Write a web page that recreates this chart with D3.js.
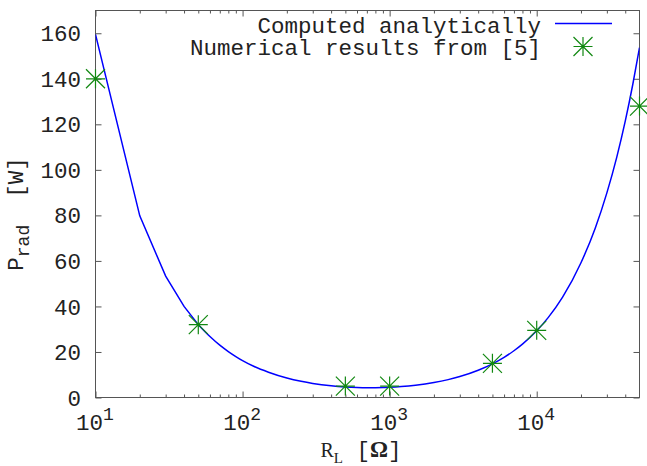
<!DOCTYPE html>
<html>
<head>
<meta charset="utf-8">
<script src="https://cdn.jsdelivr.net/npm/d3@7"></script>
<style>
  body { margin: 0; background: #fff; }
  text { font-family: "Liberation Mono", "Courier New", monospace; fill: #222; white-space: pre; }
</style>
</head>
<body>
<svg id="chart" width="647" height="466"></svg>
<script>
// Analytic radiated power versus load resistance
const curveR = [10, 20, 30, 40, 50, 60, 70, 80, 90, 100, 120, 150, 200, 250, 300, 400, 500, 600, 700, 800, 900,
                1000, 1200, 1500, 2000, 2500, 3000, 4000, 5000, 6000, 7000, 8000, 10000, 12000, 15000,
                20000, 25000, 30000, 35000, 40000, 45000, 50000];
const curveP = [159.5, 79.8, 53.3, 40.0, 32.0, 26.8, 23.0, 20.2, 18.0, 16.2, 13.6, 11.1, 8.55, 7.10, 6.18, 5.14, 4.63, 4.38, 4.29, 4.30, 4.36,
                4.47, 4.78, 5.38, 6.56, 7.85, 9.19, 11.96, 14.79, 17.65, 20.54, 23.45, 29.3, 35.2, 44.1,
                59.2, 74.4, 89.9, 105.5, 121.4, 137.5, 153.7];

// Numerical results from [5]
const refR = [10, 50, 500, 1000, 5000, 10000, 50000];
const refP = [140, 32, 5, 5, 15, 29.5, 128];

const yTicks = [0, 20, 40, 60, 80, 100, 120, 140, 160];
const xMajor = [10, 100, 1000, 10000];
const xExp = ["1", "2", "3", "4"];
const xMinor = [20, 30, 40, 50, 60, 70, 80, 90, 200, 300, 400, 500, 600, 700, 800, 900,
                2000, 3000, 4000, 5000, 6000, 7000, 8000, 9000, 20000, 30000, 40000];

const legendLabels = ["Computed analytically", "Numerical results from [5]"];

const L = 95.5, R = 639.5, T = 10.5, B = 397.5;
const FS = 22.5, SUB = 18;
const svg = d3.select("#chart");

const x = d3.scaleLog().domain([10, 50000]).range([L, R]);
const y = d3.scaleLinear().domain([0, 170]).range([B, T]);

const axisColor = "#555";

// inward ticks on all four sides
function styleAxis(g) {
  g.select(".domain").remove();
  g.selectAll(".tick line").attr("stroke", axisColor).attr("stroke-width", 1);
  g.selectAll(".tick text").remove();
}
svg.append("g").attr("transform", `translate(0,${B})`)
  .call(d3.axisBottom(x).tickValues(xMajor).tickSizeInner(-6).tickSizeOuter(0)).call(styleAxis);
svg.append("g").attr("transform", `translate(0,${B})`)
  .call(d3.axisBottom(x).tickValues(xMinor).tickSizeInner(-3).tickSizeOuter(0)).call(styleAxis);
svg.append("g").attr("transform", `translate(0,${T})`)
  .call(d3.axisTop(x).tickValues(xMajor).tickSizeInner(-6).tickSizeOuter(0)).call(styleAxis);
svg.append("g").attr("transform", `translate(0,${T})`)
  .call(d3.axisTop(x).tickValues(xMinor).tickSizeInner(-3).tickSizeOuter(0)).call(styleAxis);
svg.append("g").attr("transform", `translate(${L},0)`)
  .call(d3.axisLeft(y).tickValues(yTicks).tickSizeInner(-6).tickSizeOuter(0)).call(styleAxis);
svg.append("g").attr("transform", `translate(${R},0)`)
  .call(d3.axisRight(y).tickValues(yTicks).tickSizeInner(-6).tickSizeOuter(0)).call(styleAxis);

// border
svg.append("rect").attr("x", L).attr("y", T).attr("width", R - L).attr("height", B - T)
  .attr("fill", "none").attr("stroke", axisColor).attr("stroke-width", 1);

// y tick labels
svg.append("g").selectAll("text").data(yTicks).join("text")
  .attr("x", 81).attr("y", d => y(d)).attr("dy", "0.36em")
  .attr("text-anchor", "end").attr("font-size", FS).text(d => d);

// x tick labels: 10 with superscript exponent
const xl = svg.append("g").selectAll("text").data(xMajor).join("text")
  .attr("x", d => x(d) - 0.5).attr("y", 430)
  .attr("text-anchor", "middle").attr("font-size", FS);
xl.append("tspan").text("10");
xl.append("tspan").attr("font-size", SUB).attr("dy", -10).text((d, i) => xExp[i]);

// axis titles
const yt = svg.append("text").attr("font-size", FS).attr("text-anchor", "middle")
  .attr("transform", "translate(23,214) rotate(-90)");
yt.append("tspan").text("P");
yt.append("tspan").attr("font-size", SUB).attr("dy", 6).text("rad");
yt.append("tspan").attr("dy", -6).text("  [W]");

const xt = svg.append("text").attr("font-size", FS).attr("text-anchor", "middle")
  .attr("x", 361).attr("y", 456.5);
xt.append("tspan").attr("font-family", "Liberation Serif").attr("font-size", 20).text("R");
xt.append("tspan").attr("font-family", "Liberation Serif").attr("font-size", 15).attr("dy", 6).text("L");
xt.append("tspan").attr("dy", -6).text(" [");
xt.append("tspan").attr("font-family", "Liberation Serif").attr("font-weight", "bold").text("\u03A9");
xt.append("tspan").text("]");

// clip to plot area
svg.append("clipPath").attr("id", "plotclip").append("rect")
  .attr("x", L).attr("y", T).attr("width", R - L).attr("height", B - T);

// analytic curve: straight segments between the coarse low-R samples, smooth beyond
const pts = curveR.map((r, i) => [r, curveP[i]]);
const split = curveR.indexOf(50);
const linLine = d3.line().x(d => x(d[0])).y(d => y(d[1]));
const smoothLine = d3.line().x(d => x(d[0])).y(d => y(d[1])).curve(d3.curveMonotoneX);
const curveG = svg.append("g").attr("clip-path", "url(#plotclip)")
  .attr("fill", "none").attr("stroke", "#0000ff").attr("stroke-width", 1.5);
curveG.append("path").attr("d", linLine(pts.slice(0, split + 1)));
curveG.append("path").attr("d", smoothLine(pts.slice(split)));

// star markers
const s = 9.5;
const starPath = `M${-s},0H${s}M0,${-s}V${s}M${-s},${-s}L${s},${s}M${-s},${s}L${s},${-s}`;
svg.append("g").selectAll("path").data(refR.map((r, i) => [r, refP[i]])).join("path")
  .attr("transform", d => `translate(${x(d[0])},${y(d[1])})`)
  .attr("d", starPath).attr("fill", "none").attr("stroke", "#118811").attr("stroke-width", 1.2);

// legend
svg.append("text").attr("x", 541).attr("y", 33).attr("text-anchor", "end").attr("font-size", FS).text(legendLabels[0]);
svg.append("text").attr("x", 541).attr("y", 55).attr("text-anchor", "end").attr("font-size", FS).text(legendLabels[1]);
svg.append("line").attr("x1", 555).attr("x2", 612).attr("y1", 23.5).attr("y2", 23.5)
  .attr("stroke", "#0000ff").attr("stroke-width", 1.5);
svg.append("path").attr("transform", "translate(583,46.5)").attr("d", starPath)
  .attr("fill", "none").attr("stroke", "#118811").attr("stroke-width", 1.2);
</script>
</body>
</html>
